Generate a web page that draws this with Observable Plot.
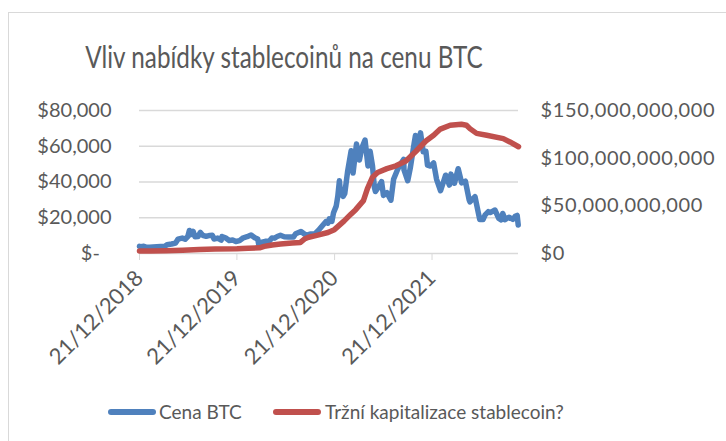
<!DOCTYPE html>
<html><head><meta charset="utf-8">
<script src="https://cdn.jsdelivr.net/npm/d3@7"></script>
<script src="https://cdn.jsdelivr.net/npm/@observablehq/plot@0.6"></script>
<style>
html,body{margin:0;padding:0;background:#fff;overflow:hidden;width:726px;height:441px}
#wrap{position:relative;width:726px;height:441px;font-family:Lato,sans-serif;color:#595959}
#frame{position:absolute;left:8px;top:12px;width:800px;height:500px;border-left:1.5px solid #d9d9d9;border-top:1.5px solid #d9d9d9;box-sizing:border-box}
#chart{position:absolute;left:0;top:0}
#title{position:absolute;left:0;width:568px;top:38px;text-align:center;font-size:30px;line-height:36px;white-space:nowrap;transform:scaleX(0.81);transform-origin:284px 0}
.sw{position:absolute;height:5.5px;border-radius:3px;top:409px}
.lt{position:absolute;top:400px;font-size:19px;line-height:24px;white-space:nowrap}
</style></head>
<body><div id="wrap"><div id="frame"></div><div id="chart"></div><div id="title"></div><div id="legend"></div></div>
<script>
const titleText = "Vliv nabídky stablecoinů na cenu BTC";
const seriesNames = ["Cena BTC", "Tržní kapitalizace stablecoin?"];
const seriesColors = ["#4F81BD", "#C0504D"];

const btcDates = ["2018-12-21","2018-12-28","2019-01-06","2019-01-14","2019-01-28","2019-02-10","2019-02-24","2019-03-10","2019-03-25","2019-04-03","2019-04-20","2019-05-05","2019-05-14","2019-05-30","2019-06-10","2019-06-20","2019-06-26","2019-07-02","2019-07-10","2019-07-17","2019-07-28","2019-08-06","2019-08-15","2019-08-28","2019-09-10","2019-09-20","2019-09-26","2019-10-10","2019-10-23","2019-10-26","2019-11-08","2019-11-22","2019-12-05","2019-12-17","2019-12-31","2020-01-14","2020-01-28","2020-02-12","2020-02-26","2020-03-08","2020-03-12","2020-03-20","2020-04-05","2020-04-20","2020-04-30","2020-05-10","2020-05-20","2020-06-01","2020-06-15","2020-07-01","2020-07-20","2020-07-28","2020-08-17","2020-09-05","2020-09-20","2020-10-08","2020-10-21","2020-11-05","2020-11-18","2020-11-26","2020-12-01","2020-12-11","2020-12-17","2020-12-27","2021-01-02","2021-01-08","2021-01-12","2021-01-22","2021-01-28","2021-02-08","2021-02-21","2021-02-28","2021-03-13","2021-03-24","2021-04-02","2021-04-14","2021-04-25","2021-05-03","2021-05-12","2021-05-19","2021-05-23","2021-06-01","2021-06-15","2021-06-22","2021-07-05","2021-07-20","2021-07-30","2021-08-14","2021-08-23","2021-09-06","2021-09-07","2021-09-21","2021-10-01","2021-10-15","2021-10-20","2021-10-27","2021-11-08","2021-11-18","2021-11-28","2021-12-04","2021-12-15","2021-12-27","2022-01-07","2022-01-22","2022-02-10","2022-02-24","2022-03-02","2022-03-15","2022-03-29","2022-04-11","2022-04-25","2022-05-09","2022-05-12","2022-05-31","2022-06-13","2022-06-18","2022-06-30","2022-07-08","2022-07-20","2022-07-27","2022-08-14","2022-08-28","2022-09-06","2022-09-12","2022-09-20","2022-10-05","2022-10-20","2022-10-29","2022-11-05","2022-11-09"];
const btcPrices = [4000,3800,4050,3600,3450,3650,3800,3900,3950,4900,5300,5800,8000,8600,8000,9500,12900,10600,12300,9400,9500,11800,10200,9600,10100,10200,8100,8600,7500,9500,8800,7300,7500,6700,7200,8800,9400,10350,8800,8100,4900,6200,6800,6900,8700,8600,9500,10200,9400,9200,9200,11000,12300,10200,10900,10900,12900,15500,17800,17000,19400,18000,22800,26500,32000,40700,34000,32000,33500,46200,57500,45000,61200,52300,59000,63500,49000,57200,49000,37000,34700,36700,40200,32500,34000,29800,41500,47000,49500,52700,46800,40700,48200,61600,66000,58500,67500,56900,57200,49400,48900,50700,41500,35100,43800,38300,44400,39300,47400,39500,40500,30100,28900,31800,22400,19000,19000,21600,23400,22900,24300,19600,18800,22400,18900,20300,19100,20800,21300,15900];

const stableDates = ["2018-12-21","2019-02-01","2019-04-01","2019-06-01","2019-08-01","2019-10-01","2019-12-21","2020-02-01","2020-03-15","2020-04-01","2020-05-01","2020-06-01","2020-07-15","2020-08-15","2020-09-01","2020-09-15","2020-10-15","2020-11-26","2020-12-20","2021-01-05","2021-01-25","2021-02-19","2021-03-10","2021-04-08","2021-04-23","2021-05-12","2021-05-31","2021-07-05","2021-08-08","2021-09-14","2021-10-21","2021-11-28","2021-12-27","2022-01-21","2022-02-27","2022-04-10","2022-04-29","2022-05-12","2022-06-06","2022-07-14","2022-09-14","2022-10-09","2022-11-10"];
const stableCaps = [2.6e9,2.7e9,3.0e9,3.5e9,4.2e9,4.7e9,5.0e9,5.5e9,6.0e9,7.5e9,9.0e9,10.0e9,11.0e9,11.6e9,15.5e9,17.0e9,19.0e9,22.0e9,25.0e9,29.0e9,34.0e9,41.0e9,46.0e9,55.5e9,68.0e9,80.0e9,85.0e9,89.0e9,92.0e9,97.0e9,107.0e9,118.0e9,124.0e9,130.5e9,134.5e9,135.5e9,134.5e9,131.0e9,126.0e9,124.0e9,120.5e9,117.0e9,112.0e9];

const xTickDates = ["2018-12-21","2019-12-21","2020-12-21","2021-12-21"];
const xDomain = ["2018-12-21","2022-11-10"];
const leftTicks = [0,20000,40000,60000,80000];
const rightTicks = [0,50e9,100e9,150e9];
const leftMax = 80000, rightMax = 150e9;

const toRight = v => v * leftMax / rightMax;
const btc = btcDates.map((d,i)=>({date:new Date(d), v:btcPrices[i]}));
const stable = stableDates.map((d,i)=>({date:new Date(d), v:toRight(stableCaps[i])}));

const fmtUSD = d3.format("$,");
const plot = Plot.plot({
  width:726, height:441,
  marginLeft:139, marginRight:208, marginTop:110, marginBottom:188,
  x:{type:"utc", domain:xDomain.map(d=>new Date(d))},
  y:{domain:[0,leftMax]},
  style:{fontFamily:"Lato, sans-serif", fontSize:"18px", color:"#595959", background:"transparent", overflow:"visible"},
  marks:[
    Plot.gridY(leftTicks, {stroke:"#d9d9d9", strokeOpacity:1, strokeWidth:1.3}),
    Plot.axisY(leftTicks, {anchor:"left", tickSize:0, tickPadding:28, label:null, fontSize:20,
      tickFormat:d=> d===0 ? "$-\u2007" : fmtUSD(d)}),
    Plot.axisY(rightTicks.map(toRight), {anchor:"right", tickSize:0, tickPadding:22, label:null, fontSize:20,
      tickFormat:d=> fmtUSD(Math.round(d*rightMax/leftMax/1e9)*1e9)}),
    Plot.axisX(xTickDates.map(d=>new Date(d)), {tickSize:7, stroke:"#d9d9d9", strokeOpacity:1, tickRotate:-45, tickPadding:14, label:null, fontSize:22,
      tickFormat:d3.utcFormat("%d/%m/%Y")}),
    Plot.line(btc, {x:"date", y:"v", stroke:seriesColors[0], strokeWidth:5.5, strokeLinejoin:"round", strokeLinecap:"round"}),
    Plot.line(stable, {x:"date", y:"v", stroke:seriesColors[1], strokeWidth:5.5, strokeLinejoin:"round", strokeLinecap:"round"})
  ]
});
// widen the right-axis labels slightly (reference font is wider per glyph)
d3.select(plot).selectAll("g[aria-label='y-axis tick label']").filter(function(){
  return this.getAttribute("text-anchor") === "start";
}).style("letter-spacing", "0.65px");
document.getElementById("chart").appendChild(plot);
document.getElementById("title").textContent = titleText;

const lg = document.getElementById("legend");
const swLeft = [108, 273], txLeft = [159, 325];
seriesNames.forEach((n,i)=>{
  const s = document.createElement("div"); s.className="sw"; s.style.left=swLeft[i]+"px"; s.style.width="48px"; s.style.background=seriesColors[i]; lg.appendChild(s);
  const t = document.createElement("div"); t.className="lt"; t.style.left=txLeft[i]+"px"; t.textContent=n; lg.appendChild(t);
});
</script></body></html>
